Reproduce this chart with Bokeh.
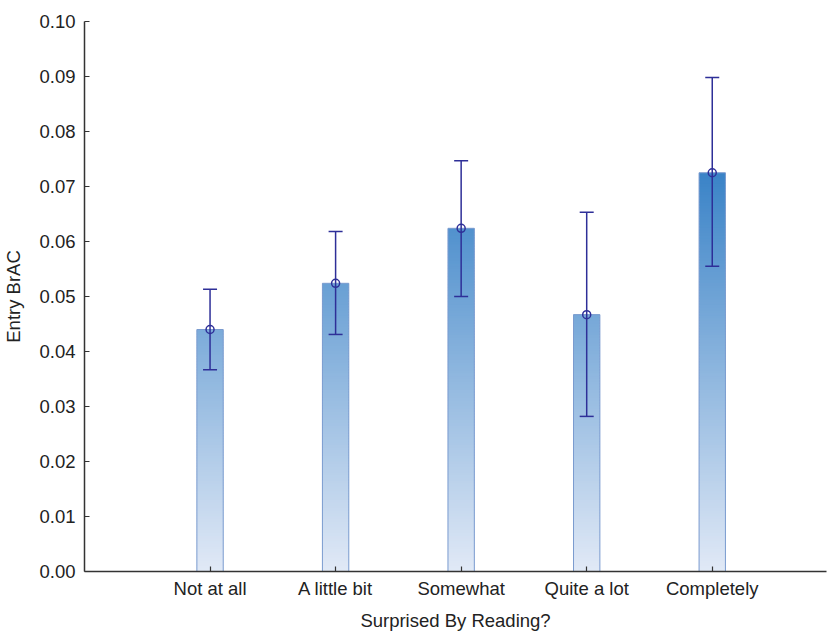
from bokeh.plotting import figure
from bokeh.models import ColumnDataSource, FixedTicker, Range1d, Whisker, TeeHead
from bokeh.embed import file_html
from bokeh.resources import INLINE

categories = ["Not at all", "A little bit", "Somewhat", "Quite a lot", "Completely"]
means = [0.0440, 0.0524, 0.0624, 0.0467, 0.0725]
lower = [0.0367, 0.0431, 0.0500, 0.0282, 0.0555]
upper = [0.0513, 0.0618, 0.0747, 0.0653, 0.0898]
y_ticks = [0.00, 0.01, 0.02, 0.03, 0.04, 0.05, 0.06, 0.07, 0.08, 0.09, 0.10]

FONT = "Liberation Sans"
FS = "18.5px"
light = (225, 233, 246)
dark = (58, 131, 199)
top_ref = 0.0725
half_w = 0.105
step = 0.0005

def shade(y):
    t = max(0.0, min(1.0, y / top_ref))
    c = [round(light[i] + (dark[i] - light[i]) * t) for i in range(3)]
    return "#%02x%02x%02x" % tuple(c)

xs = list(range(1, len(categories) + 1))

# gradient slices for each bar (slightly overlapping to hide seams)
sl, sr, sb, st, sc = [], [], [], [], []
for x, m in zip(xs, means):
    y0 = 0.0
    while y0 < m - 1e-12:
        y1 = min(m, y0 + step)
        sl.append(x - half_w); sr.append(x + half_w)
        sb.append(y0); st.append(min(m, y1 + step * 0.6))
        sc.append(shade((y0 + y1) / 2))
        y0 = y1

p = figure(width=829, height=633, output_backend="svg", toolbar_location=None,
           x_range=Range1d(0, 5.91), y_range=Range1d(0, 0.10),
           min_border_left=84, min_border_right=3, min_border_top=21, min_border_bottom=62)
p.outline_line_color = None
p.xgrid.visible = False
p.ygrid.visible = False

p.quad(left=sl, right=sr, bottom=sb, top=st, fill_color=sc, line_color=None)
p.quad(left=[x - half_w for x in xs], right=[x + half_w for x in xs],
       bottom=[0] * len(xs), top=means, fill_color=None,
       line_color="#7a9bcf", line_width=1)

src = ColumnDataSource(dict(x=xs, m=means, lo=lower, hi=upper))
navy = "#2e2f98"
w = Whisker(base="x", lower="lo", upper="hi", source=src, dimension="height",
            line_color=navy, line_width=1.5, level="annotation",
            upper_head=TeeHead(size=14, line_color=navy, line_width=1.5),
            lower_head=TeeHead(size=14, line_color=navy, line_width=1.5))
p.add_layout(w)
p.scatter("x", "m", source=src, marker="circle", size=8, fill_color=None,
          line_color=navy, line_width=1.5, level="annotation")

for ax in (p.xaxis[0], p.yaxis[0]):
    ax.axis_line_color = "#333333"
    ax.axis_line_width = 1.5
    ax.major_tick_line_color = "#333333"
    ax.major_tick_line_width = 1.2
    ax.major_tick_in = 5
    ax.major_tick_out = 0
    ax.minor_tick_line_color = None
    ax.major_label_text_font = FONT
    ax.major_label_text_font_size = FS
    ax.major_label_text_color = "#222222"
    ax.axis_label_text_font = FONT
    ax.axis_label_text_font_size = FS
    ax.axis_label_text_font_style = "normal"
    ax.axis_label_text_color = "#222222"

p.xaxis.ticker = FixedTicker(ticks=xs)
p.xaxis.major_label_overrides = {x: c for x, c in zip(xs, categories)}
p.xaxis.axis_label = "Surprised By Reading?"
p.xaxis.major_label_standoff = 6
p.xaxis.axis_label_standoff = 8

p.yaxis.ticker = FixedTicker(ticks=y_ticks)
p.yaxis.major_label_overrides = {t: "%.2f" % t for t in y_ticks}
p.yaxis.axis_label = "Entry BrAC"
p.yaxis.major_label_standoff = 9
p.yaxis.axis_label_standoff = 12

open("out.html", "w").write(file_html(p, INLINE))
